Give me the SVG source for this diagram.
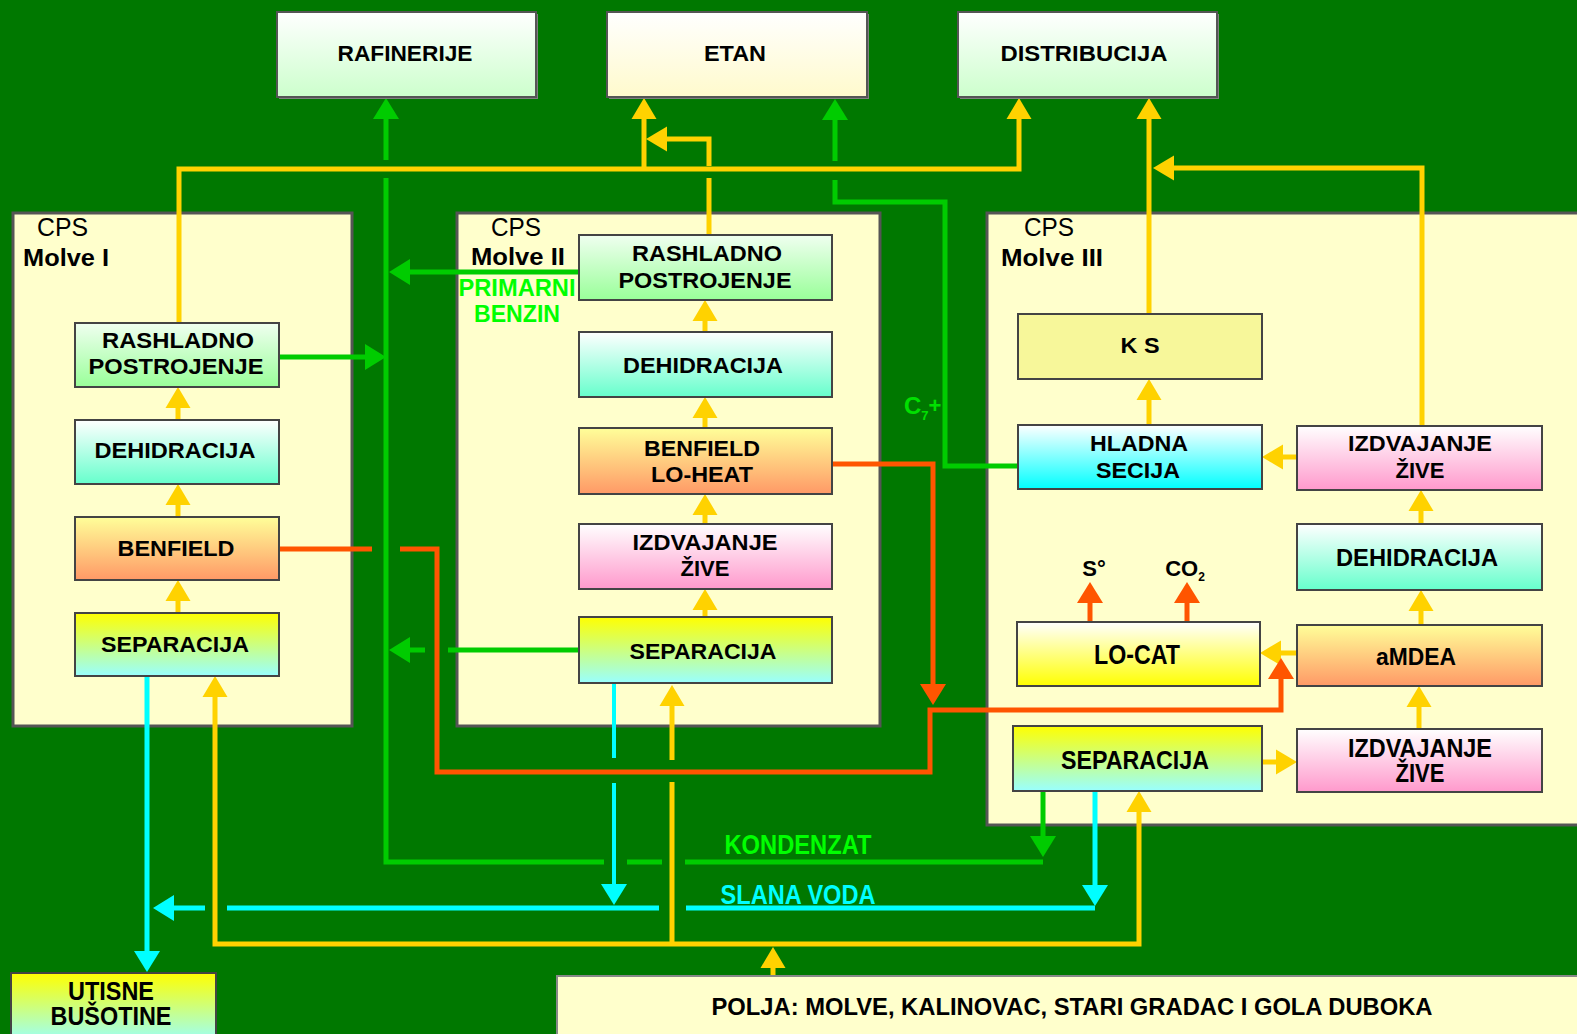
<svg xmlns="http://www.w3.org/2000/svg" width="1577" height="1034" viewBox="0 0 1577 1034">
<defs>
<style>
.t{font-family:"Liberation Sans",Arial,sans-serif;font-weight:bold;font-size:22px;fill:#000;text-anchor:middle}
.cps{font-family:"Liberation Sans",Arial,sans-serif;font-size:26px;fill:#000}
.mol{font-family:"Liberation Sans",Arial,sans-serif;font-weight:bold;font-size:24px;fill:#000}
.gl{font-family:"Liberation Sans",Arial,sans-serif;font-weight:bold;font-size:24px;fill:#00ff00;text-anchor:middle}
.cl{font-family:"Liberation Sans",Arial,sans-serif;font-weight:bold;font-size:26px;fill:#00ffff;text-anchor:middle}
.box{stroke:#444;stroke-width:2}
.top{stroke:#555;stroke-width:2}
.cont{fill:#ffffcc;stroke:#555;stroke-width:3}
.y{stroke:#ffd200;stroke-width:5;fill:none}
.g{stroke:#00cc00;stroke-width:5;fill:none}
.c{stroke:#00ffff;stroke-width:5;fill:none}
.o{stroke:#ff5500;stroke-width:5;fill:none}
</style>
<linearGradient id="gRaf" x1="0" y1="0" x2="0" y2="1"><stop offset="0" stop-color="#ffffff"/><stop offset="1" stop-color="#ccffcc"/></linearGradient>
<linearGradient id="gEtan" x1="0" y1="0" x2="0" y2="1"><stop offset="0" stop-color="#ffffff"/><stop offset="1" stop-color="#fffacc"/></linearGradient>
<linearGradient id="gRash" x1="0" y1="0" x2="0" y2="1"><stop offset="0" stop-color="#f0fff0"/><stop offset="1" stop-color="#99ff99"/></linearGradient>
<linearGradient id="gDehi" x1="0" y1="0" x2="0" y2="1"><stop offset="0" stop-color="#ffffff"/><stop offset="1" stop-color="#66ffcc"/></linearGradient>
<linearGradient id="gBenf" x1="0" y1="0" x2="0" y2="1"><stop offset="0" stop-color="#ffff99"/><stop offset="1" stop-color="#ff9966"/></linearGradient>
<linearGradient id="gSep" x1="0" y1="0" x2="0" y2="1"><stop offset="0" stop-color="#ffff00"/><stop offset="1" stop-color="#99ffff"/></linearGradient>
<linearGradient id="gIzdv" x1="0" y1="0" x2="0" y2="1"><stop offset="0" stop-color="#ffffff"/><stop offset="1" stop-color="#ff99cc"/></linearGradient>
<linearGradient id="gHlad" x1="0" y1="0" x2="0" y2="1"><stop offset="0" stop-color="#ffffff"/><stop offset="1" stop-color="#00ffff"/></linearGradient>
<linearGradient id="gLocat" x1="0" y1="0" x2="0" y2="1"><stop offset="0" stop-color="#ffffff"/><stop offset="1" stop-color="#ffff00"/></linearGradient>
<linearGradient id="gUt" x1="0" y1="0" x2="0" y2="1"><stop offset="0" stop-color="#ffff00"/><stop offset="1" stop-color="#99ffff"/></linearGradient>
<marker id="ay" markerUnits="userSpaceOnUse" markerWidth="22" markerHeight="26" refX="9" refY="12.5" orient="auto" overflow="visible"><path d="M0,0 L21,12.5 L0,25 z" fill="#ffd200"/></marker>
<marker id="ag" markerUnits="userSpaceOnUse" markerWidth="22" markerHeight="26" refX="9" refY="13" orient="auto" overflow="visible"><path d="M0,0 L21,13 L0,26 z" fill="#00cc00"/></marker>
<marker id="ac" markerUnits="userSpaceOnUse" markerWidth="22" markerHeight="26" refX="9" refY="13" orient="auto" overflow="visible"><path d="M0,0 L21,13 L0,26 z" fill="#00ffff"/></marker>
<marker id="ao" markerUnits="userSpaceOnUse" markerWidth="22" markerHeight="26" refX="9" refY="13" orient="auto" overflow="visible"><path d="M0,0 L21,13 L0,26 z" fill="#ff5500"/></marker>
</defs>
<rect x="0" y="0" width="1577" height="1034" fill="#007800"/>

<g id="cps-molve-1">
<rect class="cont" x="13" y="213" width="339" height="513"/>
<text class="cps" x="37" y="236" textLength="51" lengthAdjust="spacingAndGlyphs">CPS</text>
<text class="mol" x="23" y="266" textLength="86" lengthAdjust="spacingAndGlyphs">Molve I</text>
</g>
<g id="cps-molve-2">
<rect class="cont" x="457" y="213" width="423" height="513"/>
<text class="cps" x="491" y="236" textLength="50" lengthAdjust="spacingAndGlyphs">CPS</text>
<text class="mol" x="471" y="265" textLength="94" lengthAdjust="spacingAndGlyphs">Molve II</text>
</g>
<g id="cps-molve-3">
<rect class="cont" x="987" y="213" width="600" height="612"/>
<text class="cps" x="1024" y="236" textLength="50" lengthAdjust="spacingAndGlyphs">CPS</text>
<text class="mol" x="1001" y="266" textLength="102" lengthAdjust="spacingAndGlyphs">Molve III</text>
</g>

<g id="connectors">
<!-- yellow -->
<path class="y" d="M179,323 V169 H1019 V110" marker-end="url(#ay)"/>
<path class="y" d="M644,169 V110" marker-end="url(#ay)"/>
<path class="y" d="M709,235 V178"/>
<path class="y" d="M709,166 V139 H658" marker-end="url(#ay)"/>
<path class="y" d="M1149,314 V110" marker-end="url(#ay)"/>
<path class="y" d="M1422,426 V168 H1165" marker-end="url(#ay)"/>
<path class="y" d="M773,976 V959" marker-end="url(#ay)"/>
<path class="y" d="M773,944 H215 V688" marker-end="url(#ay)"/>
<path class="y" d="M773,944 H1139 V803" marker-end="url(#ay)"/>
<path class="y" d="M672,944 V782 M672,760 V697" marker-end="url(#ay)"/>
<path class="y" d="M178,613 V592" marker-end="url(#ay)"/>
<path class="y" d="M178,517 V496" marker-end="url(#ay)"/>
<path class="y" d="M178,420 V399" marker-end="url(#ay)"/>
<path class="y" d="M705,617 V601" marker-end="url(#ay)"/>
<path class="y" d="M705,524 V506" marker-end="url(#ay)"/>
<path class="y" d="M705,428 V409" marker-end="url(#ay)"/>
<path class="y" d="M705,332 V312" marker-end="url(#ay)"/>
<path class="y" d="M1149,425 V391" marker-end="url(#ay)"/>
<path class="y" d="M1297,457 H1274" marker-end="url(#ay)"/>
<path class="y" d="M1421,524 V502" marker-end="url(#ay)"/>
<path class="y" d="M1421,625 V602" marker-end="url(#ay)"/>
<path class="y" d="M1419,729 V698" marker-end="url(#ay)"/>
<path class="y" d="M1297,653 H1272" marker-end="url(#ay)"/>
<path class="y" d="M1262,762 H1285" marker-end="url(#ay)"/>
<!-- green -->
<path class="g" d="M1043,791 V845" marker-end="url(#ag)"/>
<path class="g" d="M1043,862 H685 M662,862 H627 M604,862 H386 V178 M386,160 V110" marker-end="url(#ag)"/>
<path class="g" d="M279,357 H374" marker-end="url(#ag)"/>
<path class="g" d="M579,272 H401" marker-end="url(#ag)"/>
<path class="g" d="M579,650 H448 M425,650 H401" marker-end="url(#ag)"/>
<path class="g" d="M1018,466 H945 V202 H835 V180 M835,161 V111" marker-end="url(#ag)"/>
<!-- cyan -->
<path class="c" d="M147,676 V960" marker-end="url(#ac)"/>
<path class="c" d="M1095,908 H686 M659,908 H227 M205,908 H165" marker-end="url(#ac)"/>
<path class="c" style="stroke-width:4" d="M614,683 V758 M614,783 V893" marker-end="url(#ac)"/>
<path class="c" d="M1095,791 V894" marker-end="url(#ac)"/>
<!-- orange -->
<path class="o" d="M279,549 H372 M400,549 H437 V772 H930 V710 H1281 V670" marker-end="url(#ao)"/>
<path class="o" d="M832,464 H933 V693" marker-end="url(#ao)"/>
<path class="o" d="M1090,622 V594" marker-end="url(#ao)"/>
<path class="o" d="M1187,622 V594" marker-end="url(#ao)"/>
<!-- connector labels -->
<text class="gl" x="517" y="296" textLength="117" lengthAdjust="spacingAndGlyphs">PRIMARNI</text>
<text class="gl" x="517" y="322" textLength="86" lengthAdjust="spacingAndGlyphs">BENZIN</text>
<text class="gl" style="font-size:28px" x="798" y="854" textLength="147" lengthAdjust="spacingAndGlyphs">KONDENZAT</text>
<text class="cl" style="font-size:28px" x="798" y="904" textLength="155" lengthAdjust="spacingAndGlyphs">SLANA VODA</text>
<text style="font-family:'Liberation Sans',Arial,sans-serif;font-weight:bold;font-size:24px;fill:#00e000" x="904" y="414">C<tspan font-size="13" dy="6">7</tspan><tspan font-size="22" dy="-7">+</tspan></text>
<text class="t" x="1094" y="576">S°</text>
<text class="t" x="1185" y="576">CO<tspan font-size="12" dy="5">2</tspan></text>
</g>

<g id="rafinerije">
<rect x="279" y="14" width="259" height="85" fill="#808080"/>
<rect class="top" x="277" y="12" width="259" height="85" fill="url(#gRaf)"/>
<text class="t" x="405" y="61" textLength="135" lengthAdjust="spacingAndGlyphs">RAFINERIJE</text>
</g>
<g id="etan">
<rect x="609" y="14" width="260" height="85" fill="#808080"/>
<rect class="top" x="607" y="12" width="260" height="85" fill="url(#gEtan)"/>
<text class="t" x="735" y="61" textLength="62" lengthAdjust="spacingAndGlyphs">ETAN</text>
</g>
<g id="distribucija">
<rect x="960" y="14" width="259" height="85" fill="#808080"/>
<rect class="top" x="958" y="12" width="259" height="85" fill="url(#gRaf)"/>
<text class="t" x="1084" y="61" textLength="167" lengthAdjust="spacingAndGlyphs">DISTRIBUCIJA</text>
</g>

<g id="m1-rashladno">
<rect class="box" x="75" y="323" width="204" height="64" fill="url(#gRash)"/>
<text class="t" x="178" y="348" textLength="152" lengthAdjust="spacingAndGlyphs">RASHLADNO</text>
<text class="t" x="176" y="374" textLength="175" lengthAdjust="spacingAndGlyphs">POSTROJENJE</text>
</g>
<g id="m1-dehidracija">
<rect class="box" x="75" y="420" width="204" height="64" fill="url(#gDehi)"/>
<text class="t" x="175" y="458" textLength="161" lengthAdjust="spacingAndGlyphs">DEHIDRACIJA</text>
</g>
<g id="m1-benfield">
<rect class="box" x="75" y="517" width="204" height="63" fill="url(#gBenf)"/>
<text class="t" x="176" y="556" textLength="117" lengthAdjust="spacingAndGlyphs">BENFIELD</text>
</g>
<g id="m1-separacija">
<rect class="box" x="75" y="613" width="204" height="63" fill="url(#gSep)"/>
<text class="t" x="175" y="652" textLength="148" lengthAdjust="spacingAndGlyphs">SEPARACIJA</text>
</g>

<g id="m2-rashladno">
<rect class="box" x="579" y="235" width="253" height="65" fill="url(#gRash)"/>
<text class="t" x="707" y="261" textLength="150" lengthAdjust="spacingAndGlyphs">RASHLADNO</text>
<text class="t" x="705" y="288" textLength="173" lengthAdjust="spacingAndGlyphs">POSTROJENJE</text>
</g>
<g id="m2-dehidracija">
<rect class="box" x="579" y="332" width="253" height="65" fill="url(#gDehi)"/>
<text class="t" x="703" y="373" textLength="160" lengthAdjust="spacingAndGlyphs">DEHIDRACIJA</text>
</g>
<g id="m2-benfield">
<rect class="box" x="579" y="428" width="253" height="66" fill="url(#gBenf)"/>
<text class="t" x="702" y="456" textLength="116" lengthAdjust="spacingAndGlyphs">BENFIELD</text>
<text class="t" x="702" y="482" textLength="102" lengthAdjust="spacingAndGlyphs">LO-HEAT</text>
</g>
<g id="m2-izdvajanje">
<rect class="box" x="579" y="524" width="253" height="65" fill="url(#gIzdv)"/>
<text class="t" x="705" y="550" textLength="145" lengthAdjust="spacingAndGlyphs">IZDVAJANJE</text>
<text class="t" x="705" y="576" textLength="49" lengthAdjust="spacingAndGlyphs">ŽIVE</text>
</g>
<g id="m2-separacija">
<rect class="box" x="579" y="617" width="253" height="66" fill="url(#gSep)"/>
<text class="t" x="703" y="659" textLength="147" lengthAdjust="spacingAndGlyphs">SEPARACIJA</text>
</g>

<g id="m3-ks">
<rect class="box" x="1018" y="314" width="244" height="65" fill="#f7f79a"/>
<text class="t" x="1140" y="353" textLength="39" lengthAdjust="spacingAndGlyphs">K S</text>
</g>
<g id="m3-hladna">
<rect class="box" x="1018" y="425" width="244" height="64" fill="url(#gHlad)"/>
<text class="t" x="1139" y="451" textLength="98" lengthAdjust="spacingAndGlyphs">HLADNA</text>
<text class="t" x="1138" y="478" textLength="84" lengthAdjust="spacingAndGlyphs">SECIJA</text>
</g>
<g id="m3-izdvajanje-1">
<rect class="box" x="1297" y="426" width="245" height="64" fill="url(#gIzdv)"/>
<text class="t" x="1420" y="451" textLength="144" lengthAdjust="spacingAndGlyphs">IZDVAJANJE</text>
<text class="t" x="1420" y="478" textLength="49" lengthAdjust="spacingAndGlyphs">ŽIVE</text>
</g>
<g id="m3-dehidracija">
<rect class="box" x="1297" y="524" width="245" height="66" fill="url(#gDehi)"/>
<text class="t" style="font-size:24px" x="1417" y="566" textLength="162" lengthAdjust="spacingAndGlyphs">DEHIDRACIJA</text>
</g>
<g id="m3-amdea">
<rect class="box" x="1297" y="625" width="245" height="61" fill="url(#gBenf)"/>
<text class="t" style="font-size:24px" x="1416" y="665" textLength="80" lengthAdjust="spacingAndGlyphs">aMDEA</text>
</g>
<g id="m3-locat">
<rect class="box" x="1017" y="622" width="243" height="64" fill="url(#gLocat)"/>
<text class="t" style="font-size:27px" x="1137" y="664" textLength="86" lengthAdjust="spacingAndGlyphs">LO-CAT</text>
</g>
<g id="m3-separacija">
<rect class="box" x="1013" y="726" width="249" height="65" fill="url(#gSep)"/>
<text class="t" style="font-size:25px" x="1135" y="769" textLength="148" lengthAdjust="spacingAndGlyphs">SEPARACIJA</text>
</g>
<g id="m3-izdvajanje-2">
<rect class="box" x="1297" y="729" width="245" height="63" fill="url(#gIzdv)"/>
<text class="t" style="font-size:25px" x="1420" y="757" textLength="144" lengthAdjust="spacingAndGlyphs">IZDVAJANJE</text>
<text class="t" style="font-size:25px" x="1420" y="782" textLength="49" lengthAdjust="spacingAndGlyphs">ŽIVE</text>
</g>

<g id="utisne-busotine">
<rect class="box" x="11" y="973" width="205" height="70" fill="url(#gUt)"/>
<text class="t" style="font-size:25px" x="111" y="1000" textLength="86" lengthAdjust="spacingAndGlyphs">UTISNE</text>
<text class="t" style="font-size:25px" x="111" y="1025" textLength="121" lengthAdjust="spacingAndGlyphs">BUŠOTINE</text>
</g>
<g id="polja">
<rect x="557" y="976" width="1030" height="70" fill="#ffffcc" stroke="#888" stroke-width="2"/>
<text class="t" style="font-size:23px" x="1072" y="1015" textLength="721" lengthAdjust="spacingAndGlyphs">POLJA: MOLVE, KALINOVAC, STARI GRADAC I GOLA DUBOKA</text>
</g>
</svg>
